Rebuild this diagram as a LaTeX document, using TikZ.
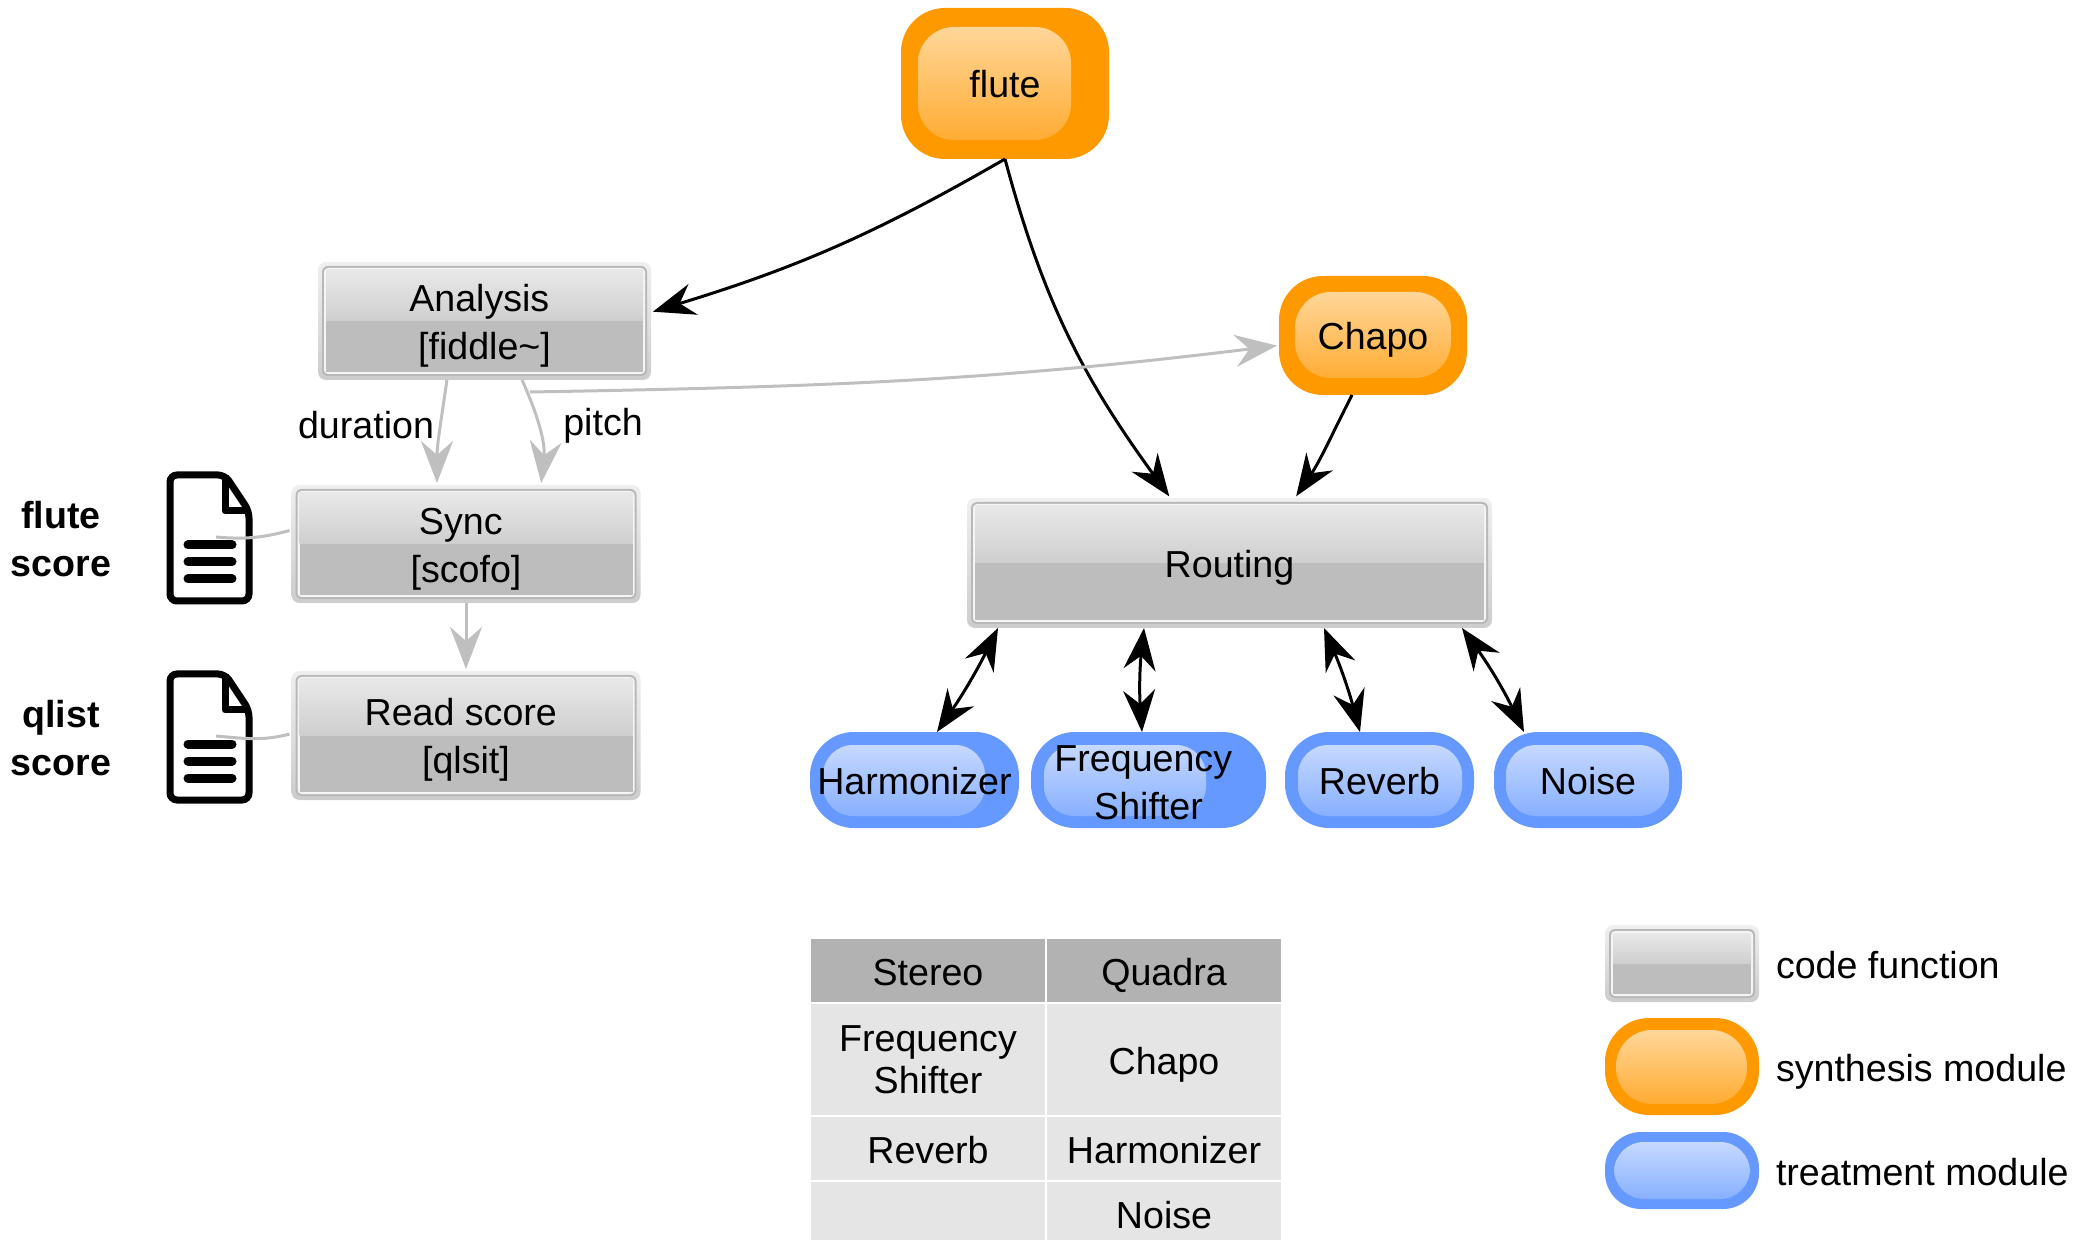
\documentclass[tikz,border=0pt]{standalone}
\usepackage{fontspec}
\setmainfont{Liberation Sans}
\usetikzlibrary{positioning,arrows.meta}

\definecolor{modorange}{HTML}{FF9900}
\definecolor{modorangetop}{HTML}{FFDDAA}
\definecolor{modorangelow}{HTML}{FFA522}
\definecolor{modblue}{HTML}{6699FF}
\definecolor{linkgray}{HTML}{BFBFBF}

\newcommand{\toproom}[1]{\rule{0pt}{#1}}

\tikzset{
    scoredoc/.pic={
        \draw[line width=3.5pt,rounded corners=3.5pt] (0,0) -- (55,0) -- (79,36) -- (79,126) -- (0,126) -- cycle;
        \draw[line width=3.5pt,line join=round] (55,0) -- (55,36) -- (79,36);
        \foreach \liney in {70,87,104}
            \draw[line width=4.5pt,line cap=round] (18,\liney) -- (62,\liney);
        \coordinate (-line) at (46,62);
    }
}

\begin{document}
\begin{tikzpicture}[x=0.5pt,y=-0.5pt,>={Stealth[length=21pt,width=16pt,inset=7pt]},
    every node/.style={font=\fontsize{18.8}{24}\selectfont,inner sep=0pt,outer sep=0pt,align=center},
    oneline/.style={text height=14.5pt,text depth=0pt},
    code node/.style={rounded corners=4pt,top color=black!6,bottom color=black!20,
        path picture={
            \fill[black!28,rounded corners=3pt] ([shift={(4,4)}]path picture bounding box.north west) rectangle ([shift={(-4,-4)}]path picture bounding box.south east);
            \fill[black!4,rounded corners=2pt] ([shift={(6,6)}]path picture bounding box.north west) rectangle ([shift={(-6,-6)}]path picture bounding box.south east);
            \shade[sharp corners,top color=black!9,bottom color=black!19] ([shift={(8,8)}]path picture bounding box.north west) rectangle ([shift={(-8,0)}]path picture bounding box.east);
            \fill[sharp corners,black!26] ([shift={(8,0)}]path picture bounding box.west) rectangle ([shift={(-8,-8)}]path picture bounding box.south east);
        }},
    synth node/.style n args={4}{fill=modorange,rounded corners=22pt,oneline,
        path picture={
            \shade[top color=modorangetop,bottom color=modorangelow,rounded corners=18pt] ([shift={(#1,#2)}]path picture bounding box.north west) rectangle ([shift={(-#3,-#4)}]path picture bounding box.south east);
        }},
    treat node/.style n args={4}{fill=modblue,rounded corners=22pt,
        path picture={
            \shade[top color=modblue!30!white,bottom color=modblue!85!white,rounded corners=15pt] ([shift={(#1,#2)}]path picture bounding box.north west) rectangle ([shift={(-#3,-#4)}]path picture bounding box.south east);
        }},
    flow/.style={->,line width=1.5pt,shorten >=1pt},
    signal/.style={line width=1.5pt,linkgray,shorten >=1pt},
    exchange/.style={<->,line width=1.5pt},
    tabhead/.style={fill=black!30,draw=white,line width=0.7pt,minimum width=118pt,minimum height=32.5pt,oneline},
    tabcell/.style={fill=black!10,draw=white,line width=0.7pt,minimum width=118pt,minimum height=32.5pt}]

    \useasboundingbox (0,0) rectangle (2078,1240);

    % modules
    \node[synth node={17}{19}{38}{19},minimum width=104pt,minimum height=75.5pt] (flute) at (1005,83.5) {flute};
    \node[synth node={16}{16}{16}{17},minimum width=94pt,minimum height=59.5pt] (chapo) at (1373,335.5) {Chapo};
    \node[treat node={13}{13}{34}{12},oneline,minimum width=104.5pt,minimum height=48pt] (harm) at (914.5,780) {Harmonizer};
    \node[treat node={13}{13}{60}{12},minimum width=117.5pt,minimum height=48pt,right=6pt of harm] (freq) {\toproom{16pt}Frequency\ \null\\Shifter};
    \node[treat node={13}{13}{12}{12},oneline,minimum width=94.5pt,minimum height=48pt,right=9.5pt of freq] (reverb) {Reverb};
    \node[treat node={12}{13}{13}{12},oneline,minimum width=94pt,minimum height=48pt,right=10pt of reverb] (noise) {Noise};

    % code functions
    \node[code node,minimum width=166.5pt,minimum height=59pt] (analysis) at (484.5,321) {\toproom{18pt}Analysis\ \null\\{[fiddle\textasciitilde]}};
    \node[code node,minimum width=174.5pt,minimum height=59pt] (sync) at (466,544) {\toproom{18pt}Sync\ \null\\{[scofo]}};
    \node[code node,minimum width=174.5pt,minimum height=64.5pt] (read) at (466,735.5) {\toproom{18pt}Read score\ \null\\{[qlsit]}};
    \node[code node,oneline,minimum width=262.5pt,minimum height=65pt] (routing) at (1229.5,563) {Routing};

    % scores
    \pic (flutedoc) at (170,475) {scoredoc};
    \pic (qlistdoc) at (170,674) {scoredoc};
    \node[font=\fontsize{18.8}{24}\selectfont\bfseries] (flutescore) at (61,539) {flute\\score};
    \node[font=\fontsize{18.8}{24}\selectfont\bfseries] (qlistscore) at (61,738) {qlist\\score};

    \node[oneline] (duration) at (366,424) {duration};
    \node[oneline] (pitch) at (603,421) {pitch};
    \coordinate (fork) at (530,392);

    \draw[flow] (flute.south) to[out=-150,in=17] (analysis.3);
    \draw[flow] (flute.south) to[out=-75,in=126] ([xshift=-29.5pt]routing.north);
    \draw[flow] ([xshift=-10.5pt]chapo.south) to[out=-117,in=56] ([xshift=32.75pt]routing.north);

    \draw[signal,->] ([xshift=-18.8pt]analysis.south) to[out=-98,in=90] ([xshift=-14.5pt]sync.north);
    \draw[signal,->] ([xshift=18.8pt]analysis.south) to[out=-66,in=84] ([xshift=37.5pt]sync.north);
    \draw[signal,->] (fork) to[out=1,in=187] (chapo.186);
    \draw[signal,->] (sync.south) -- (read.north);
    \draw[signal] (flutedoc-line) to[out=-5,in=195] ([yshift=7pt]sync.west);
    \draw[signal] (qlistdoc-line) to[out=-5,in=195] ([yshift=1pt]read.west);

    \draw[exchange] ([xshift=-115.75pt]routing.south) to[bend left=4] ([xshift=11.25pt]harm.north);
    \draw[exchange] ([xshift=-42.75pt]routing.south) to[bend right=5] ([xshift=-3.25pt]freq.north);
    \draw[exchange] ([xshift=47.25pt]routing.south) to[bend left=4] ([xshift=-9.75pt]reverb.north);
    \draw[exchange] ([xshift=116.25pt]routing.south) to[bend left=5] ([xshift=-32pt]noise.north);

    % table
    \node[tabhead] (stereo) at (928,970.5) {Stereo};
    \node[tabhead,right=0pt of stereo] (quadra) {Quadra};
    \node[tabcell,minimum height=56.5pt,below=0pt of stereo] (cellfreq) {Frequency\\[-3pt]Shifter};
    \node[tabcell,oneline,minimum height=56.5pt,below=0pt of quadra] (cellchapo) {Chapo};
    \node[tabcell,oneline,below=0pt of cellfreq] (cellreverb) {Reverb};
    \node[tabcell,oneline,below=0pt of cellchapo] (cellharm) {Harmonizer};
    \node[tabcell,below=0pt of cellreverb] (cellempty) {};
    \node[tabcell,oneline,below=0pt of cellharm] (cellnoise) {Noise};

    % legend
    \node[code node,minimum width=77pt,minimum height=38.5pt] (keycode) at (1682,963.5) {};
    \node[synth node={11}{12}{12}{11},minimum width=77pt,minimum height=48.5pt] (keysynth) at (1682,1066.5) {};
    \node[treat node={9}{10}{9}{10},minimum width=77pt,minimum height=38.5pt,rounded corners=18pt] (keytreat) at (1682,1170.5) {};
    \node[oneline,right=8.5pt of keycode] {code function};
    \node[oneline,right=8.5pt of keysynth] {synthesis module};
    \node[oneline,right=8.5pt of keytreat] {treatment module};
\end{tikzpicture}
\end{document}
